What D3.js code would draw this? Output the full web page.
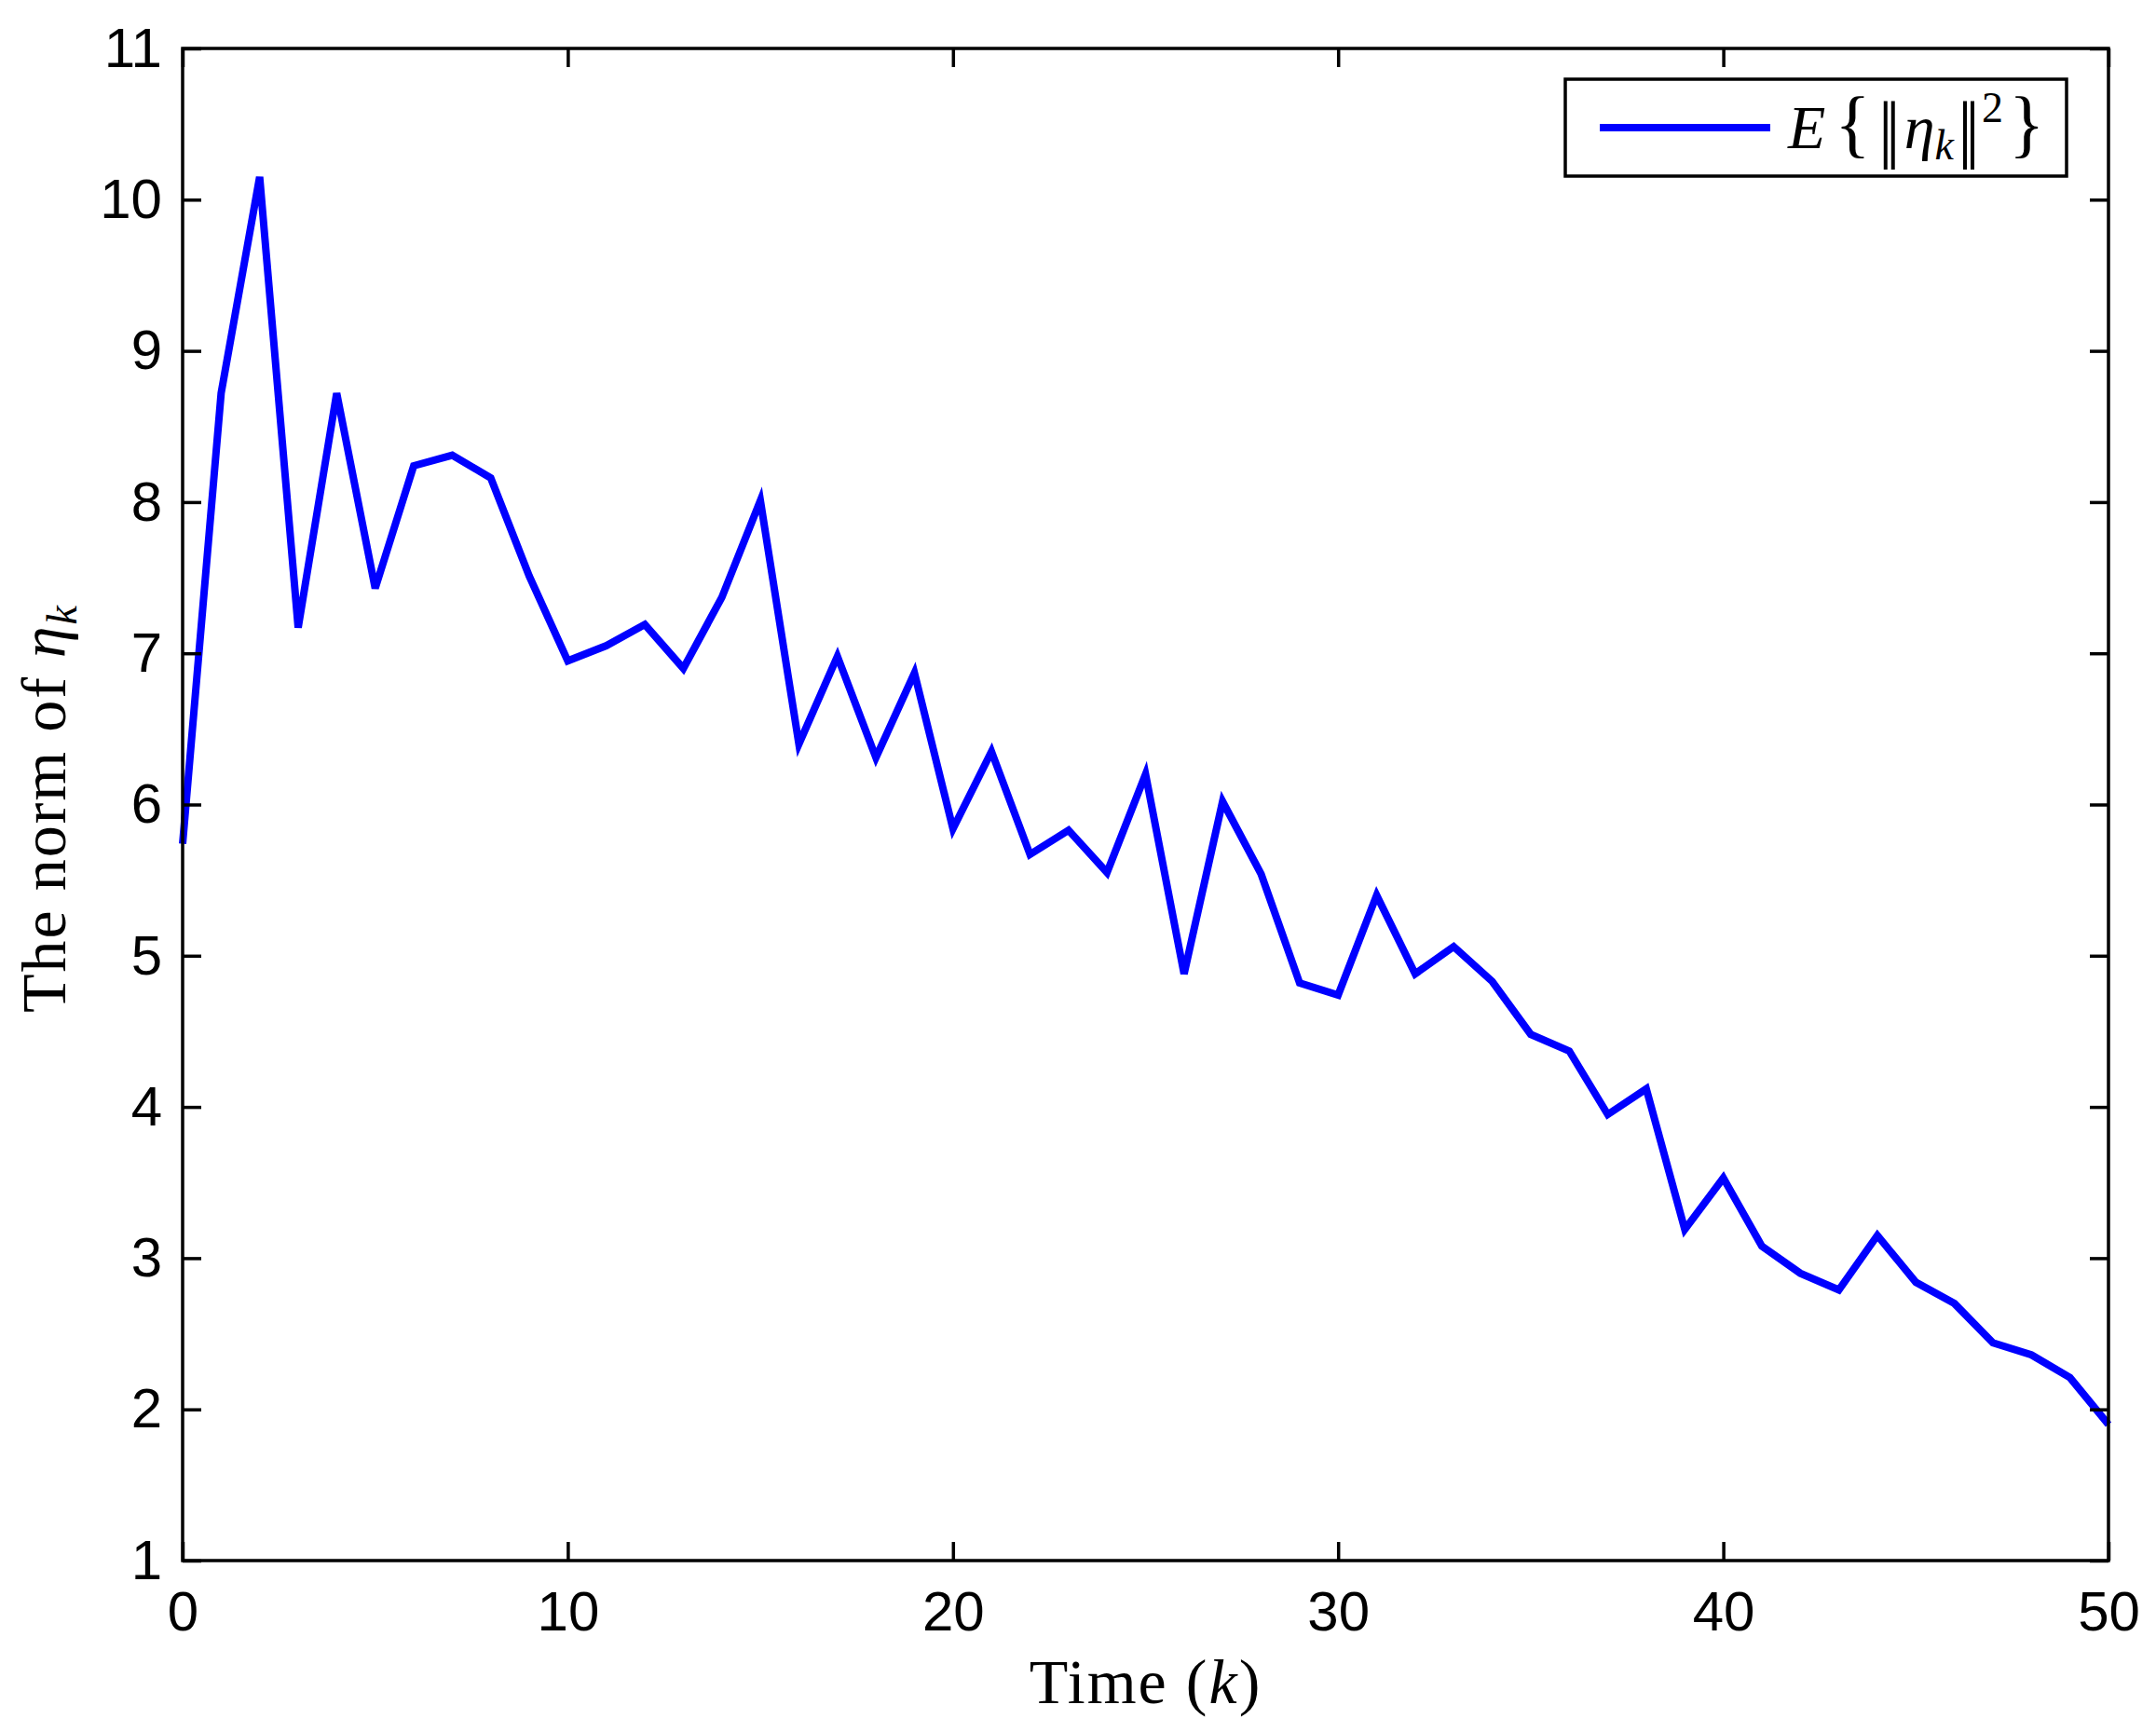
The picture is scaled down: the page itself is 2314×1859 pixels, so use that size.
<!DOCTYPE html>
<html>
<head>
<meta charset="utf-8">
<script src="https://cdn.jsdelivr.net/npm/d3@7"></script>
<style>
    body { margin: 0; background: #fff; }
    svg { display: block; }
</style>
</head>
<body>
<div id="chart"></div>
<script>
const timeSteps = [0, 1, 2, 3, 4, 5, 6, 7, 8, 9, 10, 11, 12, 13, 14, 15, 16, 17, 18, 19, 20,
    21, 22, 23, 24, 25, 26, 27, 28, 29, 30, 31, 32, 33, 34, 35, 36, 37, 38, 39, 40,
    41, 42, 43, 44, 45, 46, 47, 48, 49, 50];
const normValues = [5.74, 8.72, 10.15, 7.17, 8.72, 7.43, 8.24, 8.31, 8.16, 7.51, 6.95,
    7.05, 7.19, 6.90, 7.37, 8.01, 6.40, 6.98, 6.31, 6.87, 5.84,
    6.35, 5.67, 5.83, 5.55, 6.20, 4.88, 6.02, 5.54, 4.82, 4.74,
    5.40, 4.88, 5.06, 4.83, 4.48, 4.37, 3.95, 4.12, 3.19, 3.53,
    3.08, 2.90, 2.79, 3.15, 2.84, 2.70, 2.44, 2.36, 2.21, 1.90];
const xTicks = [0, 10, 20, 30, 40, 50];
const yTicks = [1, 2, 3, 4, 5, 6, 7, 8, 9, 10, 11];

class NormChart {
    constructor() {
        this.width = 2314;
        this.height = 1859;
        this.margin = { top: 52, right: 51, bottom: 184, left: 196 };
        this.innerW = this.width - this.margin.left - this.margin.right;
        this.innerH = this.height - this.margin.top - this.margin.bottom;
        this.sans = '"Liberation Sans", Arial, sans-serif';
        this.serif = '"Liberation Serif", "DejaVu Serif", serif';
        this.lineColor = '#0000ff';

        this.svg = d3.select('#chart').append('svg')
            .attr('width', this.width)
            .attr('height', this.height);
        this.g = this.svg.append('g')
            .attr('transform', `translate(${this.margin.left},${this.margin.top})`);

        this.x = d3.scaleLinear().domain([0, 50]).range([0, this.innerW]);
        this.y = d3.scaleLinear().domain([1, 11]).range([this.innerH, 0]);
    }

    initialize() {
        this.drawLine();
        this.drawAxes();
        this.drawLabels();
        this.drawLegend();
    }

    drawLine() {
        const points = timeSteps.map((t, i) => [t, normValues[i]]);
        const line = d3.line()
            .x(d => this.x(d[0]))
            .y(d => this.y(d[1]));

        this.g.append('path')
            .datum(points)
            .attr('fill', 'none')
            .attr('stroke', this.lineColor)
            .attr('stroke-width', 8)
            .attr('d', line);
    }

    styleAxis(sel) {
        sel.select('.domain').remove();
        sel.selectAll('.tick line')
            .attr('stroke', '#000')
            .attr('stroke-width', 3.5);
        sel.selectAll('.tick text')
            .attr('fill', '#000')
            .style('font-family', this.sans)
            .style('font-size', '60px');
    }

    drawAxes() {
        // ticks point inward on all four sides, labels only bottom and left
        const bottom = this.g.append('g')
            .attr('transform', `translate(0,${this.innerH})`)
            .call(d3.axisBottom(this.x).tickValues(xTicks).tickSize(-20).tickPadding(32));
        this.styleAxis(bottom);

        const left = this.g.append('g')
            .call(d3.axisLeft(this.y).tickValues(yTicks).tickSize(-20).tickPadding(22));
        this.styleAxis(left);

        const top = this.g.append('g')
            .call(d3.axisTop(this.x).tickValues(xTicks).tickSize(-20).tickFormat(''));
        this.styleAxis(top);

        const right = this.g.append('g')
            .attr('transform', `translate(${this.innerW},0)`)
            .call(d3.axisRight(this.y).tickValues(yTicks).tickSize(-20).tickFormat(''));
        this.styleAxis(right);

        this.g.append('rect')
            .attr('width', this.innerW)
            .attr('height', this.innerH)
            .attr('fill', 'none')
            .attr('stroke', '#000')
            .attr('stroke-width', 3.5);
    }

    drawLabels() {
        const xLabel = this.svg.append('text')
            .attr('x', this.margin.left + this.innerW / 2)
            .attr('y', 1828)
            .attr('text-anchor', 'middle')
            .style('font-family', this.serif)
            .style('font-size', '68px')
            .style('letter-spacing', '2px');
        xLabel.append('tspan').text('Time (');
        xLabel.append('tspan').style('font-style', 'italic').text('k');
        xLabel.append('tspan').text(')');

        const yLabel = this.svg.append('text')
            .attr('transform', `translate(70,${this.margin.top + this.innerH / 2 + 4}) rotate(-90)`)
            .attr('text-anchor', 'middle')
            .style('font-family', this.serif)
            .style('font-size', '68px')
            .style('letter-spacing', '2px');
        yLabel.append('tspan').text('The norm of ');
        yLabel.append('tspan').style('font-style', 'italic').text('η');
        yLabel.append('tspan').style('font-style', 'italic').style('font-size', '46px')
            .attr('dy', 12).text('k');
    }

    drawLegend() {
        const legend = this.svg.append('g')
            .attr('transform', 'translate(1680,85)');

        legend.append('rect')
            .attr('width', 538)
            .attr('height', 104)
            .attr('fill', '#fff')
            .attr('stroke', '#000')
            .attr('stroke-width', 3.5);

        legend.append('line')
            .attr('x1', 37)
            .attr('x2', 220)
            .attr('y1', 52)
            .attr('y2', 52)
            .attr('stroke', this.lineColor)
            .attr('stroke-width', 8);

        const label = legend.append('text')
            .attr('x', 239)
            .attr('y', 74)
            .style('font-family', this.serif)
            .style('font-size', '66px');
        label.append('tspan').style('font-style', 'italic').text('E');
        label.append('tspan').style('font-size', '80px').attr('dx', 10).text('{');
        label.append('tspan').attr('dx', 8).style('font-size', '80px').attr('dy', 6)
            .style('letter-spacing', '-8px').text('||');
        label.append('tspan').attr('dx', 12).attr('dy', -6).style('font-style', 'italic').text('η');
        label.append('tspan').style('font-style', 'italic').style('font-size', '46px')
            .attr('dy', 12).text('k');
        label.append('tspan').attr('dy', -6).attr('dx', 4).style('font-size', '80px')
            .style('letter-spacing', '-8px').text('||');
        label.append('tspan').style('font-size', '46px').attr('dx', 10).attr('dy', -34).text('2');
        label.append('tspan').style('font-size', '80px').attr('dy', 28).attr('dx', 6).text('}');
    }
}

const chart = new NormChart();
chart.initialize();
</script>
</body>
</html>
